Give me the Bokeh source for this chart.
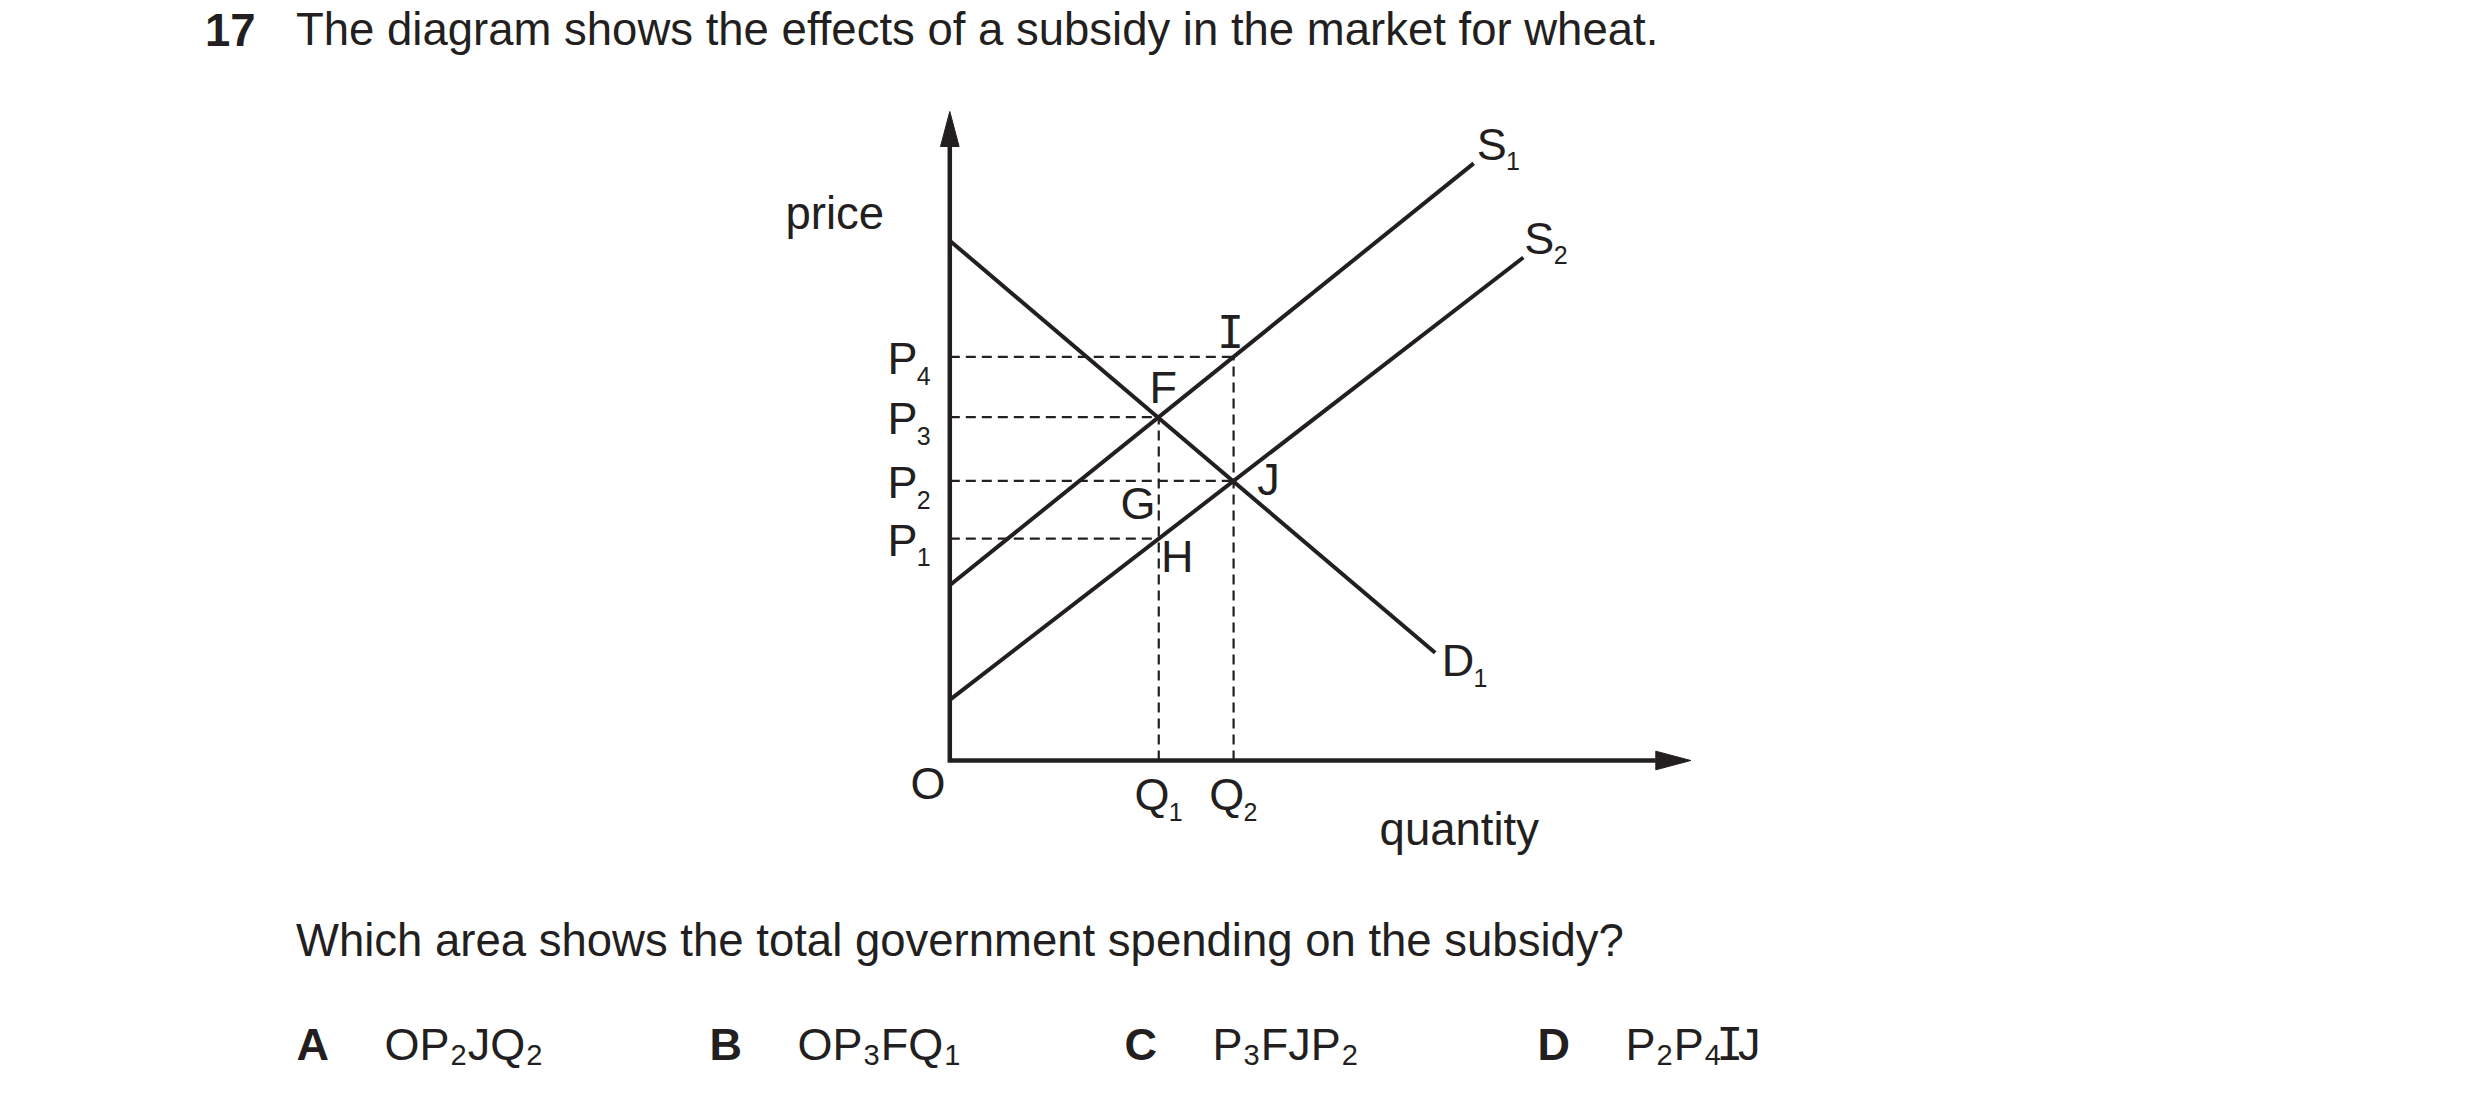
from collections import defaultdict

from bokeh.plotting import figure
from bokeh.models import Range1d
from bokeh.core.properties import value
from bokeh.embed import file_html
from bokeh.resources import INLINE

# ---------------- data ----------------
price_levels = [34.2, 43.1, 52.9, 62.2]        # P1, P2, P3, P4
price_subscripts = ["1", "2", "3", "4"]
quantity_levels = [28.2, 38.3]                  # Q1, Q2
quantity_subscripts = ["1", "2"]

demand_x = [0.0, 65.5]
demand_y = [80.1, 16.6]
supply1_x = [0.0, 70.7]
supply1_y = [27.0, 92.0]
supply2_x = [0.0, 77.4]
supply2_y = [9.35, 77.5]

axis_max_x = 100.0
axis_max_y = 100.0

# dashed guides: (price index, quantity index)
horizontal_guides = [(0, 0), (1, 1), (2, 0), (3, 1)]   # P1-H, P2-J, P3-F, P4-I
vertical_guides = [(0, 2), (1, 3)]                     # Q1 up to P3, Q2 up to P4

title_number = "17"
title_text = "The diagram shows the effects of a subsidy in the market for wheat."
question_text = "Which area shows the total government spending on the subsidy?"
option_letters = ["A", "B", "C", "D"]
option_runs = [
    [("OP", False), ("2", True), ("JQ", False), ("2", True)],
    [("OP", False), ("3", True), ("FQ", False), ("1", True)],
    [("P", False), ("3", True), ("FJP", False), ("2", True)],
    [("P", False), ("2", True), ("P", False), ("4", True), ("I", False), ("J", False)],
]

# ---------------- layout / style ----------------
W, H = 2464, 1090
PAGE = 0
OX, OY = 949.3, 760.0        # page pixel position of the origin O
SX, SY = 7.41, 6.49          # pixels per data unit
INK = "#231f20"
FONT = "Liberation Sans"
MONO = "DejaVu Sans Mono"
MAIN = 45
BODY = 45.5
SUB = 25
ANS_SUB = 29
BASELINE_FIX = 16.0 / 44.0   # rendered baseline sits this fraction of size lower


def to_data(px, py):
    return ((px - OX) / SX, (OY - py) / SY)


def off(x, y, dx, dy):
    return (x + dx / SX, y - dy / SY)


p = figure(
    width=W, height=H,
    x_range=Range1d((PAGE - OX) / SX, (PAGE + W - OX) / SX),
    y_range=Range1d((OY - PAGE - H) / SY, (OY - PAGE) / SY),
    output_backend="svg", toolbar_location=None,
    x_axis_type=None, y_axis_type=None, min_border=0,
    outline_line_color=None, background_fill_color="white",
    border_fill_color="white",
)

# dashed guides
gx, gy = [], []
for pi, qi in horizontal_guides:
    gx.append([0.0, quantity_levels[qi]])
    gy.append([price_levels[pi], price_levels[pi]])
for qi, pi in vertical_guides:
    gx.append([quantity_levels[qi], quantity_levels[qi]])
    gy.append([0.0, price_levels[pi]])
p.multi_line(gx, gy, line_color=INK, line_width=2.2, line_dash="10 6")

# curves
p.line(demand_x, demand_y, line_color=INK, line_width=4)
p.line(supply1_x, supply1_y, line_color=INK, line_width=4)
p.line(supply2_x, supply2_y, line_color=INK, line_width=4)

# axes with arrow heads
HEAD_L, HEAD_HW = 35.0, 9.3
p.line([0.0, 0.0, axis_max_x - HEAD_L / SX], [axis_max_y - HEAD_L / SY, 0.0, 0.0],
       line_color=INK, line_width=4.5, line_join="miter")
p.patch([-HEAD_HW / SX, HEAD_HW / SX, 0.0],
        [axis_max_y - HEAD_L / SY, axis_max_y - HEAD_L / SY, axis_max_y],
        fill_color=INK, line_color=INK, line_width=1)
p.patch([axis_max_x - HEAD_L / SX, axis_max_x - HEAD_L / SX, axis_max_x],
        [HEAD_HW / SY, -HEAD_HW / SY, 0.0],
        fill_color=INK, line_color=INK, line_width=1)

# ---------------- texts ----------------
groups = defaultdict(lambda: {"x": [], "y": [], "text": []})


def add_text(pos, s, font=FONT, size=MAIN, style="normal", align="left"):
    g = groups[(font, size, style, align)]
    g["x"].append(pos[0])
    g["y"].append(pos[1] + BASELINE_FIX * size / SY)
    g["text"].append(s)


for P, sub in zip(price_levels, price_subscripts):
    add_text(off(0.0, P, -62.3, 18), "P")
    add_text(off(0.0, P, -33.0, 28), sub, size=SUB)
for Q, sub in zip(quantity_levels, quantity_subscripts):
    add_text(off(Q, 0.0, -24.3, 50), "Q")
    add_text(off(Q, 0.0, 9.9, 61), sub, size=SUB)
add_text(off(0.0, 0.0, -39.3, 39), "O")

Q1, Q2 = quantity_levels
P1, P2, P3, P4 = price_levels
add_text(off(Q1, P3, -9.3, -13), "F")
add_text(off(Q2, P4, -3.0, -8.0), "I", font=MONO, align="center")
add_text(off(Q2, P2, 23.7, 14.7), "J")
add_text(off(Q1, P2, -38.3, 38.7), "G")
add_text(off(Q1, P1, 2.2, 34.7), "H")

add_text(off(supply1_x[1], supply1_y[1], 3, -3), "S")
add_text(off(supply1_x[1], supply1_y[1], 32.3, 7), "1", size=SUB)
add_text(off(supply2_x[1], supply2_y[1], 1, -3), "S")
add_text(off(supply2_x[1], supply2_y[1], 30.3, 7), "2", size=SUB)
add_text(off(demand_x[1], demand_y[1], 6.5, 24), "D")
add_text(off(demand_x[1], demand_y[1], 38.3, 34), "1", size=SUB)

add_text(off(0.0, axis_max_y, -164.3, 119), "price", size=BODY)
add_text(off(axis_max_x, 0.0, -311.2, 86), "quantity", size=BODY)

add_text(to_data(204.5, 46), title_number, style="bold", size=BODY)
add_text(to_data(295.5, 46), title_text, size=BODY)
add_text(to_data(295.5, 957), question_text, size=BODY)

WIDTHS = {"O": .778, "P": .667, "J": .5, "Q": .778, "F": .611}
letter_x = [296, 709, 1124, 1537]
ANS_BASE = 1060
for lx, letter, runs in zip(letter_x, option_letters, option_runs):
    add_text(to_data(lx, ANS_BASE), letter, style="bold")
    x = lx + 88
    for s, is_sub in runs:
        if is_sub:
            add_text(to_data(x, ANS_BASE + 5), s, size=ANS_SUB)
            x += 0.556 * ANS_SUB + 1
        elif s == "I":
            adv = 0.36 * MAIN
            add_text(to_data(x + adv / 2, ANS_BASE), s, font=MONO, align="center")
            x += adv
        else:
            add_text(to_data(x, ANS_BASE), s)
            x += sum(WIDTHS[c] for c in s) * MAIN + 1

for (font, size, style, align), g in groups.items():
    p.text(x=g["x"], y=g["y"], text=g["text"], text_font=value(font),
           text_font_size=value(f"{size}px"), text_font_style=style,
           text_align=align, text_baseline="alphabetic", text_color=INK)

open("out.html", "w").write(file_html(p, INLINE))
